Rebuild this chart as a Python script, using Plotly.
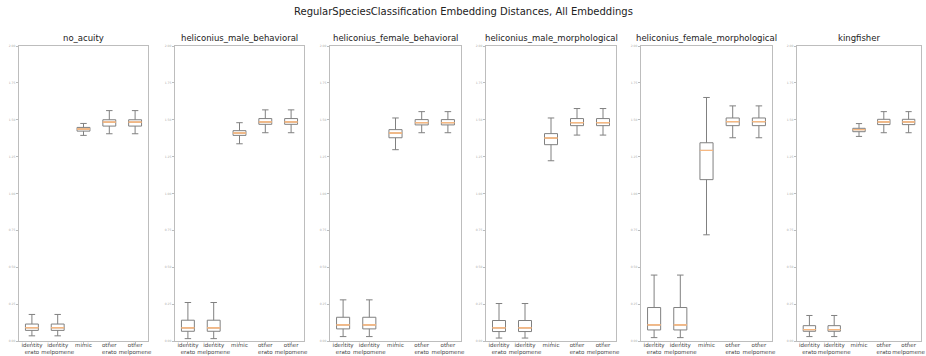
import plotly.graph_objects as go

title = "RegularSpeciesClassification Embedding Distances, All Embeddings"
panels = ["no_acuity", "heliconius_male_behavioral", "heliconius_female_behavioral",
          "heliconius_male_morphological", "heliconius_female_morphological", "kingfisher"]
categories = ["identity<br>erato", "identity<br>melpomene", "mimic", "other<br>erato", "other<br>melpomene"]
y_ticks = [0.0, 0.25, 0.5, 0.75, 1.0, 1.25, 1.5, 1.75, 2.0]

# per panel, per category: (lower whisker, q1, median, q3, upper whisker)
lower = [
    [0.035, 0.035, 1.394, 1.405, 1.405],
    [0.016, 0.016, 1.337, 1.412, 1.412],
    [0.030, 0.030, 1.297, 1.412, 1.412],
    [0.020, 0.020, 1.222, 1.396, 1.396],
    [0.023, 0.023, 0.720, 1.378, 1.378],
    [0.030, 0.030, 1.387, 1.412, 1.412],
]
q1 = [
    [0.072, 0.072, 1.423, 1.457, 1.457],
    [0.066, 0.066, 1.394, 1.469, 1.469],
    [0.082, 0.082, 1.378, 1.465, 1.465],
    [0.064, 0.064, 1.331, 1.460, 1.460],
    [0.075, 0.075, 1.094, 1.460, 1.460],
    [0.066, 0.066, 1.419, 1.467, 1.467],
]
median = [
    [0.090, 0.090, 1.437, 1.484, 1.484],
    [0.089, 0.089, 1.410, 1.485, 1.485],
    [0.109, 0.109, 1.410, 1.480, 1.480],
    [0.089, 0.089, 1.376, 1.480, 1.480],
    [0.109, 0.109, 1.292, 1.487, 1.487],
    [0.077, 0.077, 1.433, 1.485, 1.485],
]
q3 = [
    [0.115, 0.115, 1.448, 1.500, 1.500],
    [0.141, 0.141, 1.426, 1.508, 1.508],
    [0.161, 0.161, 1.433, 1.501, 1.501],
    [0.139, 0.139, 1.406, 1.508, 1.508],
    [0.227, 0.227, 1.344, 1.512, 1.512],
    [0.104, 0.104, 1.442, 1.503, 1.503],
]
upper = [
    [0.180, 0.180, 1.475, 1.562, 1.562],
    [0.261, 0.261, 1.480, 1.567, 1.567],
    [0.279, 0.279, 1.512, 1.555, 1.555],
    [0.254, 0.254, 1.512, 1.576, 1.576],
    [0.447, 0.447, 1.651, 1.594, 1.594],
    [0.173, 0.173, 1.474, 1.555, 1.555],
]

W, H = 926, 356
x_px = [(19, 148), (175, 304), (330, 461), (486, 616), (641, 772), (797, 921)]
y_dom = [(356 - 341) / H, (356 - 46) / H]

BOX_COL = "#808080"
MED_COL = "#f6b882"
AX_COL = "#bdbdbd"

fig = go.Figure()
layout = dict(
    width=W, height=H, margin=dict(l=0, r=0, t=0, b=0, autoexpand=False),
    paper_bgcolor="white", plot_bgcolor="white", showlegend=False,
    boxmode="overlay",
    font=dict(family="DejaVu Sans", color="#333"),
)
annotations = [dict(text=title, x=0.5, y=1 - 11 / H, xref="paper", yref="paper",
                    showarrow=False, font=dict(size=10, color="#222"), xanchor="center", yanchor="middle")]

for i, name in enumerate(panels):
    xa = "x" if i == 0 else f"x{i+1}"
    ya = "y" if i == 0 else f"y{i+1}"
    fig.add_trace(go.Box(
        x=categories, q1=q1[i], median=median[i], q3=q3[i],
        lowerfence=lower[i], upperfence=upper[i],
        xaxis=xa, yaxis=ya, width=0.5, whiskerwidth=0.5,
        line=dict(color=BOX_COL, width=1), fillcolor="rgba(0,0,0,0)",
        boxpoints=False, hoverinfo="skip",
    ))
    fig.add_trace(go.Box(
        x=categories, q1=median[i], median=median[i], q3=median[i],
        lowerfence=median[i], upperfence=median[i],
        xaxis=xa, yaxis=ya, width=0.5, whiskerwidth=0,
        line=dict(color=MED_COL, width=1), fillcolor="rgba(0,0,0,0)",
        boxpoints=False, hoverinfo="skip",
    ))
    x0, x1 = x_px[i]
    xkey = "xaxis" if i == 0 else f"xaxis{i+1}"
    ykey = "yaxis" if i == 0 else f"yaxis{i+1}"
    layout[xkey] = dict(
        domain=[x0 / W, x1 / W], anchor=ya, type="category",
        range=[-0.5, 4.5], showgrid=False, zeroline=False,
        showline=True, linecolor=AX_COL, linewidth=1, mirror=True,
        ticks="outside", ticklen=2, tickcolor=AX_COL, tickangle=0, automargin=False,
        ticklabelstandoff=-4,
        tickfont=dict(size=5.5, color="#444"),
    )
    layout[ykey] = dict(
        domain=y_dom, anchor=xa, range=[0, 2],
        tickvals=y_ticks, ticktext=[f"{v:.2f}" for v in y_ticks],
        showgrid=False, zeroline=False, automargin=False,
        showline=True, linecolor=AX_COL, linewidth=1, mirror=True,
        ticks="outside", ticklen=2, tickcolor=AX_COL,
        tickfont=dict(size=3, color="#aaa"),
    )
    annotations.append(dict(text=name, x=(x0 + x1) / 2 / W, y=y_dom[1], xref="paper", yref="paper",
                            yanchor="bottom", xanchor="center", showarrow=False, yshift=1,
                            font=dict(size=8.5, color="#222")))

layout["annotations"] = annotations
fig.update_layout(**layout)
fig.write_html("out.html", config={"displayModeBar": False, "staticPlot": True})

with open("out.html", "r", encoding="utf-8") as f:
    html = f.read()
html = html.replace("<head>", "<head><style>html,body{margin:0;padding:0;overflow:hidden;}</style>", 1)
with open("out.html", "w", encoding="utf-8") as f:
    f.write(html)
